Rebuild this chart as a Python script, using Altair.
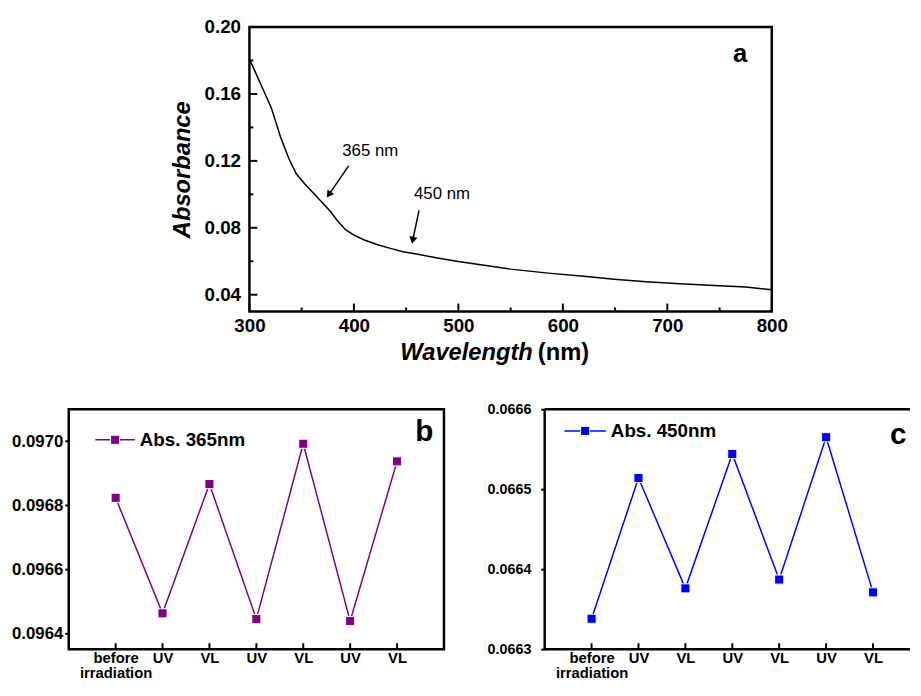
import math
import altair as alt
import pandas as pd

FONT = "Liberation Sans"

# ---------------- data ----------------
wavelength = [300, 310, 321, 330, 338, 345, 353, 365, 378, 384, 392, 400, 410, 422, 435,
              447, 460, 480, 500, 523, 550, 586, 620, 649, 680, 712, 745, 775, 800]
absorbance = [0.181, 0.167, 0.1516, 0.1338, 0.121, 0.1121, 0.1062, 0.0983, 0.0894, 0.0844,
              0.0789, 0.0756, 0.0727, 0.0700, 0.0677, 0.0657, 0.0643, 0.0619, 0.0598, 0.0578,
              0.0553, 0.0529, 0.0510, 0.0493, 0.0478, 0.0465, 0.0455, 0.0446, 0.0430]

a_x_major = [300, 400, 500, 600, 700, 800]
a_x_minor = [350, 450, 550, 650, 750]
a_y_major = [0.04, 0.08, 0.12, 0.16, 0.20]
a_y_minor = [0.06, 0.10, 0.14, 0.18]

arrow_labels = ["365 nm", "450 nm"]
arrow_label_x = [415.6, 484.3]
arrow_label_y = [0.1259, 0.1000]
arrow_from_x = [395.0, 462.3]
arrow_from_y = [0.1170, 0.0904]
arrow_to_x = [376.0, 456.3]
arrow_to_y = [0.0998, 0.0725]

steps = ["before irradiation", "UV", "VL", "UV", "VL", "UV", "VL"]
abs365 = [0.096823, 0.096462, 0.096866, 0.096444, 0.096992, 0.096438, 0.096937]
abs450 = [0.066338, 0.066514, 0.066376, 0.066544, 0.066387, 0.066565, 0.066371]
b_y_ticks = [0.0964, 0.0966, 0.0968, 0.0970]
c_y_ticks = [0.0663, 0.0664, 0.0665, 0.0666]

# ---------------- panel a ----------------
AW, AH = 529, 288
xa = alt.Scale(domain=[300, 800], nice=False, zero=False)
ya = alt.Scale(domain=[0.03, 0.20], nice=False, zero=False)
ax_xa = alt.Axis(values=a_x_major, format="d", ticks=False, domain=False, grid=False,
                 labelFont=FONT, labelFontSize=19, labelFontWeight="bold", labelColor="black",
                 labelPadding=5, labelFlush=False, labelOverlap=False, title=None)
ax_ya = alt.Axis(values=a_y_major, format=".2f", ticks=False, domain=False, grid=False,
                 labelFont=FONT, labelFontSize=19, labelFontWeight="bold", labelColor="black",
                 labelPadding=9, labelFlush=False, labelOverlap=False,
                 title="Absorbance", titleFont=FONT, titleFontSize=24, titleFontWeight="bold",
                 titleFontStyle="italic", titleColor="black", titlePadding=10)


def XA(f):
    return alt.X(f, type="quantitative", scale=xa, axis=ax_xa)


def YA(f):
    return alt.Y(f, type="quantitative", scale=ya, axis=ax_ya)


df_a = pd.DataFrame({"wl": wavelength, "A": absorbance})
curve = alt.Chart(df_a).mark_line(color="black", strokeWidth=1.5).encode(x=XA("wl"), y=YA("A"))


def yticks(vals, length):
    return alt.Chart(pd.DataFrame({"v": vals})).mark_rule(color="black", strokeWidth=2).encode(
        y=YA("v"), x=alt.value(0), x2=alt.value(length))


def xticks(vals, length):
    return alt.Chart(pd.DataFrame({"v": vals})).mark_rule(color="black", strokeWidth=2).encode(
        x=XA("v"), y=alt.value(AH), y2=alt.value(AH - length))


px_per_x = AW / (800 - 300)
px_per_y = AH / (0.20 - 0.03)
angles = []
for fx, fy, tx, ty in zip(arrow_from_x, arrow_from_y, arrow_to_x, arrow_to_y):
    dx = (tx - fx) * px_per_x
    dy = -(ty - fy) * px_per_y
    angles.append(math.degrees(math.atan2(dx, -dy)) % 360)

df_arrow = pd.DataFrame({"x1": arrow_from_x, "y1": arrow_from_y, "x2": arrow_to_x,
                         "y2": arrow_to_y, "ang": angles, "lab": arrow_labels,
                         "lx": arrow_label_x, "ly": arrow_label_y})
shafts = alt.Chart(df_arrow).mark_rule(color="black", strokeWidth=1.5).encode(
    x=XA("x1"), y=YA("y1"), x2="x2:Q", y2="y2:Q")
heads = alt.Chart(df_arrow).mark_point(shape="triangle-up", filled=True, color="black",
                                       opacity=1, size=70).encode(
    x=XA("x2"), y=YA("y2"), angle=alt.Angle("ang:Q", scale=None))
arrow_text = alt.Chart(df_arrow).mark_text(font=FONT, fontSize=17, color="black",
                                           align="center", baseline="middle").encode(
    x=XA("lx"), y=YA("ly"), text="lab:N")

panel_letter_a = alt.Chart(pd.DataFrame({"t": ["a"]})).mark_text(
    font=FONT, fontSize=26, fontWeight="bold", color="black", align="center",
    baseline="middle").encode(x=alt.value(497), y=alt.value(27), text="t:N")
xtitle1 = alt.Chart(pd.DataFrame({"t": ["Wavelength"]})).mark_text(
    font=FONT, fontSize=24, fontWeight="bold", fontStyle="italic", color="black",
    align="right", baseline="middle").encode(x=alt.value(287), y=alt.value(330), text="t:N")
xtitle2 = alt.Chart(pd.DataFrame({"t": ["(nm)"]})).mark_text(
    font=FONT, fontSize=24, fontWeight="bold", color="black",
    align="left", baseline="middle").encode(x=alt.value(292), y=alt.value(330), text="t:N")

chart_a = alt.layer(
    curve, yticks(a_y_major, 8), yticks(a_y_minor, 4), xticks(a_x_major, 8), xticks(a_x_minor, 4),
    shafts, heads, arrow_text, panel_letter_a, xtitle1, xtitle2
).properties(width=AW, height=AH)

spacer = alt.Chart(pd.DataFrame({"z": [0]})).mark_point(opacity=0, size=1).encode(
    x=alt.value(100), y=alt.value(100)
).properties(width=183, height=AH, view=alt.ViewBackground(stroke="transparent"))

# ---------------- panels b, c ----------------
BW, BH = 380, 243
CW = 370                      # panel c is cut off by the right edge of the figure
STEP = BW / (len(steps) + 1)  # spacing of the categories
parts = []
for i, s in enumerate(steps):
    words = s.split(" ")
    lab = "['" + "','".join(words) + "']" if len(words) > 1 else "'" + s + "'"
    parts.append(f"datum.value == {i + 1} ? {lab} : ")
label_expr = "".join(parts) + "''"


def small_panel(values, color, ydomain, yvals, letter, legend_text, ylab_size, ylab_pad,
                leg_x0, leg_x1, leg_y, letter_x, letter_y, width, open_right):
    xs = alt.Scale(domain=[0, width / STEP], nice=False, zero=False)
    ys = alt.Scale(domain=ydomain, nice=False, zero=False)
    ax_x = alt.Axis(values=list(range(1, len(values) + 1)), labelExpr=label_expr, ticks=False,
                    domain=False, grid=False, labelFont=FONT, labelFontSize=15,
                    labelFontWeight="bold", labelColor="black", labelPadding=2,
                    labelLineHeight=15, labelFlush=False, labelOverlap=False, title=None)
    ax_y = alt.Axis(values=yvals, format=".4f", ticks=True, tickSize=4, tickWidth=2,
                    tickColor="black", domain=False, grid=False, labelFont=FONT,
                    labelFontSize=ylab_size, labelFontWeight="bold", labelColor="black",
                    labelPadding=ylab_pad, labelFlush=False, labelOverlap=False, title=None)
    X = alt.X("pos:Q", scale=xs, axis=ax_x)
    Y = alt.Y("val:Q", scale=ys, axis=ax_y)
    df = pd.DataFrame({"pos": list(range(1, len(values) + 1)), "step": steps, "val": values})
    base = alt.Chart(df)
    line = base.mark_line(color=color, strokeWidth=1.5).encode(x=X, y=Y)
    pts = base.mark_point(shape="square", filled=True, fill=color, stroke="white",
                          strokeWidth=1, size=85, opacity=1).encode(x=X, y=Y)
    xt = base.mark_rule(color="black", strokeWidth=2).encode(
        x=X, y=alt.value(BH), y2=alt.value(BH - 6))
    leg = pd.DataFrame({"t": [legend_text]})
    leg_line = alt.Chart(leg).mark_rule(color=color, strokeWidth=1.5).encode(
        x=alt.value(leg_x0), x2=alt.value(leg_x1), y=alt.value(leg_y))
    leg_pt = alt.Chart(leg).mark_point(shape="square", filled=True, fill=color, stroke="white",
                                       strokeWidth=1, size=85, opacity=1).encode(
        x=alt.value((leg_x0 + leg_x1) / 2), y=alt.value(leg_y))
    leg_txt = alt.Chart(leg).mark_text(font=FONT, fontSize=19, fontWeight="bold", color="black",
                                       align="left", baseline="middle").encode(
        x=alt.value(leg_x1 + 5), y=alt.value(leg_y), text="t:N")
    let = alt.Chart(pd.DataFrame({"t": [letter]})).mark_text(
        font=FONT, fontSize=30, fontWeight="bold", color="black", align="center",
        baseline="middle").encode(x=alt.value(letter_x), y=alt.value(letter_y), text="t:N")
    layers = [line, pts, xt, leg_line, leg_pt, leg_txt, let]
    props = dict(width=width, height=BH)
    if open_right:
        fr = alt.Chart(leg).mark_rule(color="black", strokeWidth=2.5)
        layers += [
            fr.encode(x=alt.value(0), x2=alt.value(width), y=alt.value(0)),
            fr.encode(x=alt.value(0), x2=alt.value(width), y=alt.value(BH)),
            fr.encode(x=alt.value(0), y=alt.value(0), y2=alt.value(BH)),
        ]
        props["view"] = alt.ViewBackground(stroke="transparent")
    return alt.layer(*layers).properties(**props)


chart_b = small_panel(abs365, "#800080", [0.09635, 0.0971], b_y_ticks, "b", "Abs. 365nm",
                      17, 2, 27, 67, 31, 360, 23, BW, False)
chart_c = small_panel(abs450, "#0000FF", [0.0663, 0.0666], c_y_ticks, "c", "Abs. 450nm",
                      14.5, 10, 20, 62, 22, 358, 26, CW, True)

top = alt.hconcat(spacer, chart_a, spacing=0, bounds="flush")
bottom = alt.hconcat(chart_b, chart_c, spacing=102, bounds="flush")
chart = alt.vconcat(top, bottom, spacing=AH + 99, bounds="flush").properties(
    padding={"left": 1.5, "top": 4, "right": 0, "bottom": -3}
).configure(background="white", view=alt.ViewConfig(stroke="black", strokeWidth=2.5))

chart.save("out.html", embed_options={"renderer": "svg", "actions": False})
